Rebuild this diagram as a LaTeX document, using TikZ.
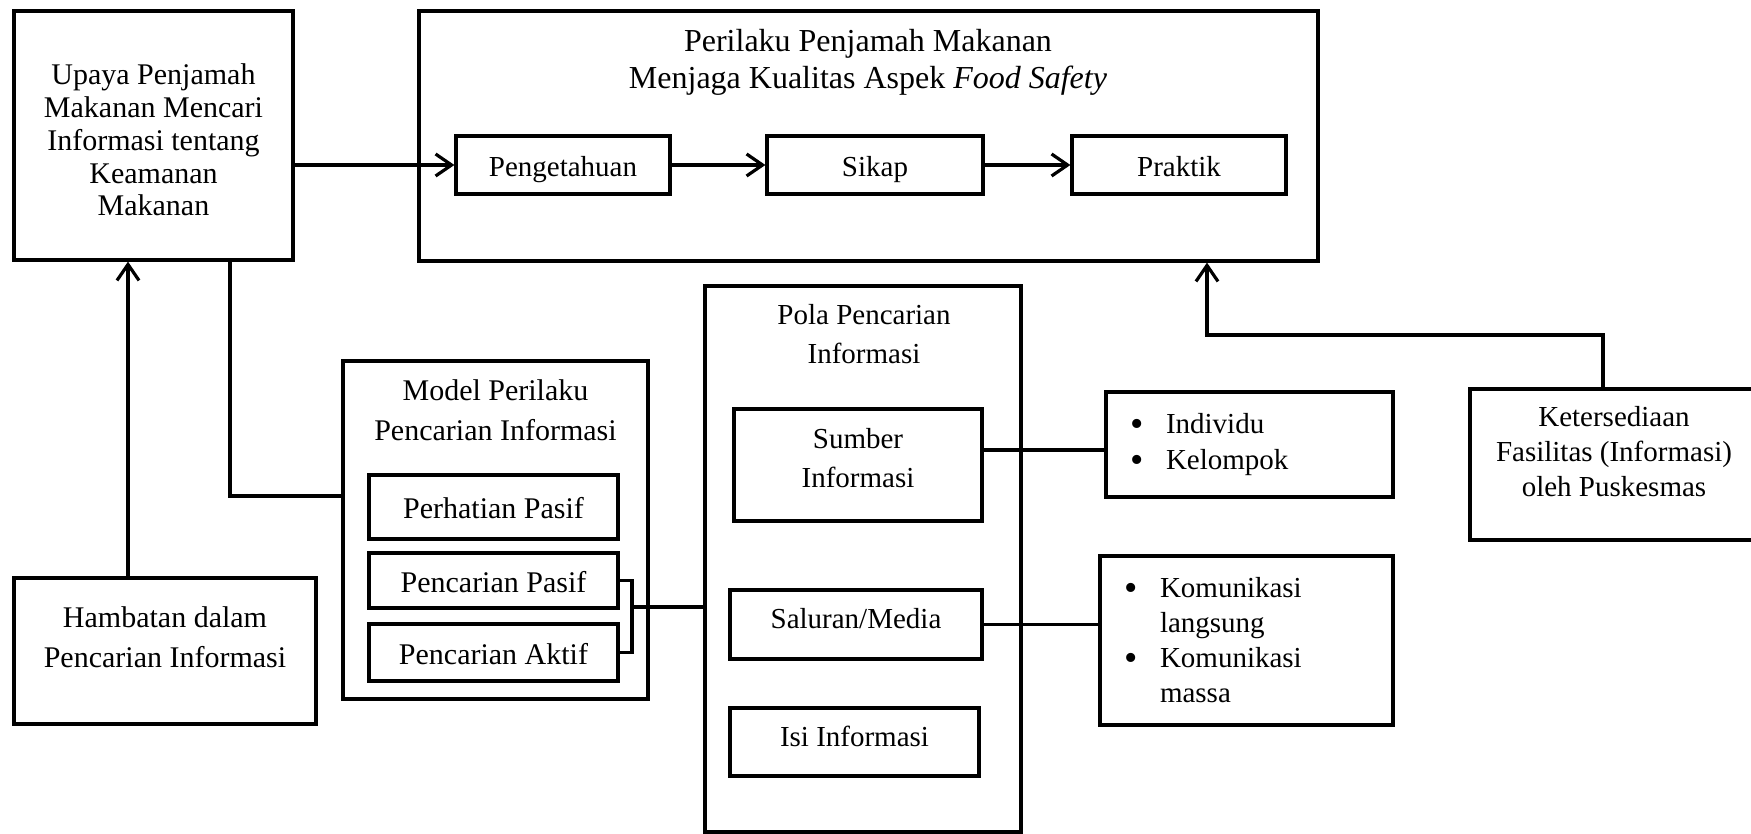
\documentclass[tikz,border=0pt]{standalone}
\usepackage{fontspec}
\setmainfont{Liberation Serif}
\usetikzlibrary{arrows.meta}
\newcommand\fA{\fontsize{14.5}{17.5}\selectfont}
\newcommand\fU{\fontsize{15}{16.4}\selectfont}
\newcommand\fB{\fontsize{15}{19.8}\selectfont}
\newcommand\fM{\fontsize{15}{17.5}\selectfont}
\newcommand\fC{\fontsize{14.5}{19.5}\selectfont}
\newcommand\fL{\fontsize{14.5}{18}\selectfont}
\newcommand\fT{\fontsize{16}{18.5}\selectfont}
\newcommand\bul{\makebox[18pt][l]{\raisebox{-1.3pt}{\fontsize{19}{0}\selectfont\textbullet}}}
\begin{document}
\begin{tikzpicture}[x=0.5pt,y=-0.5pt,
  box/.style={draw, line width=1.6pt, inner sep=0pt, align=center, font=\fA},
  one/.style={text height=11.5pt, text depth=0pt},
  txt/.style={inner sep=0pt, align=center, font=\fA},
  conn/.style={line width=1.6pt},
  arr/.style={conn, -{Straight Barb[length=8pt,width=11pt]}}]
\useasboundingbox (0,0) rectangle (1751,834);

% top left
\node[box, minimum width=139.5pt, minimum height=124.5pt] (A) at (153.5,135.5) {};
\node[txt, font=\fU] (At) at (153.5,140) {Upaya Penjamah\\Makanan Mencari\\Informasi tentang\\Keamanan\\Makanan};

% big behaviour box
\node[box, minimum width=449.5pt, minimum height=125pt] (P) at (868.5,136) {};
\node[txt, font=\fT] (Pt) at (868,62) {Perilaku Penjamah Makanan\\Menjaga Kualitas Aspek \textit{Food Safety}};
\node[box, one, minimum width=107pt, minimum height=29pt] (Pg) at (563,165) {Pengetahuan};
\node[box, one, minimum width=108pt, minimum height=29pt] (Sk) at (875,165) {Sikap};
\node[box, one, minimum width=107pt, minimum height=29pt] (Pr) at (1179,165) {Praktik};

% Hambatan
\node[box, minimum width=151pt, minimum height=73pt] (H) at (165,651) {};
\node[txt, font=\fB] (Ht) at (165,637) {Hambatan dalam\\Pencarian Informasi};

% Model
\node[box, minimum width=152.5pt, minimum height=169pt] (M) at (495.5,530) {};
\node[txt, font=\fB] (Mt) at (495.5,410) {Model Perilaku\\Pencarian Informasi};
\node[box, one, font=\fM, minimum width=124.5pt, minimum height=32pt] (PeP) at (493.5,507) {Perhatian Pasif};
\node[box, one, font=\fM, minimum width=124.5pt, minimum height=27.5pt] (PcP) at (493.5,580.5) {Pencarian Pasif};
\node[box, one, font=\fM, minimum width=124.5pt, minimum height=28.5pt] (PcA) at (493.5,652.5) {Pencarian Aktif};

% Pola
\node[box, minimum width=158pt, minimum height=273pt] (Po) at (863,559) {};
\node[txt, font=\fC] (Pot) at (864,334.5) {Pola Pencarian\\Informasi};
\node[box, minimum width=124pt, minimum height=56pt] (Sb) at (858,465) {};
\node[txt, font=\fC] (Sbt) at (858,458) {Sumber\\Informasi};
\node[box, text height=9pt, text depth=5.5pt, minimum width=126pt, minimum height=34.5pt] (Sl) at (856,624.5) {Saluran/Media};
\node[box, text height=9pt, text depth=5pt, minimum width=124.5pt, minimum height=34pt] (Is) at (854.5,742) {Isi Informasi};

% lists
\node[box, font=\fL, align=left, inner xsep=12pt, text width=119.5pt, minimum width=143.5pt, minimum height=52.5pt] (In) at (1249.5,444.5) {\bul Individu\\\bul Kelompok};
\node[box, align=left, inner xsep=12pt, text width=122.5pt, minimum width=146.5pt, minimum height=84.5pt] (Km) at (1246.5,640.5) {\bul Komunikasi\\\hspace*{18pt}langsung\\\bul Komunikasi\\\hspace*{18pt}massa};

% Ketersediaan
\node[box, minimum width=145pt, minimum height=75.5pt] (K) at (1615,464.5) {};
\node[txt] (Kt) at (1614,452) {Ketersediaan\\Fasilitas (Informasi)\\oleh Puskesmas};

% connectors
\draw[arr] (A.east |- Pg.west) -- (Pg.west);
\draw[arr] (Pg) -- (Sk);
\draw[arr] (Sk) -- (Pr);
\coordinate (h1) at (128,0);
\draw[arr] (H.north -| h1) -- (A.south -| h1);
\coordinate (a1) at (230,496);
\draw[conn] (A.south -| a1) |- (M.west |- a1);
\coordinate (b1) at (632,607);
\draw[conn] (PcP.east) -| (b1 |- PcA.east) -- (PcA.east);
\draw[conn] (b1) -- (Po.west |- b1);
\coordinate (s1) at (0,450);
\draw[conn] (Sb.east |- s1) -- (In.west |- s1);
\draw[conn] (Sl.east) -- (Km.west |- Sl.east);
\coordinate (k1) at (1603,335);
\coordinate (k2) at (1207,335);
\draw[arr] (K.north -| k1) -- (k1) -- (k2) -- (P.south -| k2);
\end{tikzpicture}
\end{document}
